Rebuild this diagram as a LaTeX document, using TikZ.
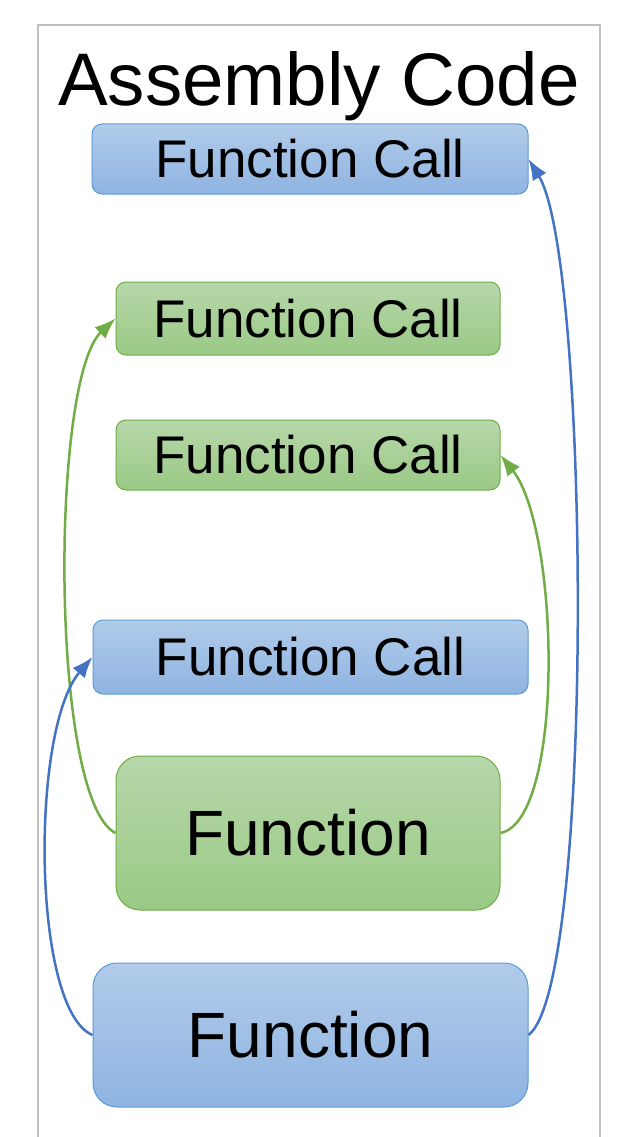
\documentclass[tikz,border=0pt]{standalone}
\usepackage{fontspec}
\setmainfont{Liberation Sans}
\usetikzlibrary{arrows.meta}

\definecolor{bluetop}{HTML}{B1CBE9}
\definecolor{bluebot}{HTML}{8FB4E2}
\definecolor{blueedge}{HTML}{5B9BD5}
\definecolor{blueline}{HTML}{4472C4}
\definecolor{greentop}{HTML}{B7D7AA}
\definecolor{greenbot}{HTML}{9AC985}
\definecolor{greenedge}{HTML}{70AD47}
\definecolor{frame}{HTML}{BFBFBF}

\tikzset{
 bluebox/.style={draw=blueedge,line width=1pt,top color=bluetop,bottom color=bluebot,rounded corners=10pt,inner sep=0pt},
 greenbox/.style={draw=greenedge,line width=1pt,top color=greentop,bottom color=greenbot,rounded corners=10pt,inner sep=0pt},
 callfont/.style={font=\fontsize{53}{62}\selectfont},
 funcfont/.style={font=\fontsize{64}{76}\selectfont},
 blueflow/.style={draw=blueline,line width=2.5pt,-{Latex[length=21pt,width=16pt]}},
 greenflow/.style={draw=greenedge,line width=2.5pt,-{Latex[length=21pt,width=16pt]}}
}

\begin{document}
\begin{tikzpicture}[x=1pt,y=-1pt]

 \useasboundingbox (0,0) rectangle (628,1137);
 \draw[frame,line width=1.5pt] (38,1137) -- (38,25) -- (600,25) -- (600,1137); % open at the bottom
 \node (title) at (319,86) {\fontsize{74.5}{88}\selectfont Assembly Code};

% Calls
 \node[bluebox,callfont,minimum width=436pt,minimum height=70pt] (callA) at (310,159) {Function Call};
 \node[greenbox,callfont,minimum width=384pt,minimum height=73pt] (callB) at (308,318.5) {Function Call};
 \node[greenbox,callfont,minimum width=384pt,minimum height=70pt] (callC) at (308,455) {Function Call};
 \node[bluebox,callfont,minimum width=435pt,minimum height=74pt] (callD) at (310.5,657) {Function Call};

% Functions
 \node[greenbox,funcfont,rounded corners=24pt,minimum width=384pt,minimum height=154pt] (funcG) at (308,833) {Function};
 \node[bluebox,funcfont,rounded corners=24pt,minimum width=435pt,minimum height=144pt] (funcB) at (310.5,1035) {Function};

% Returns to the callers
 \draw[greenflow] (funcG.west) .. controls (50,800) and (50,380) .. (callB.west);
 \draw[greenflow] (funcG.east) .. controls (565,820) and (560,530) .. (callC.east);
 \draw[blueflow] (funcB.west) .. controls (32,1010) and (30,730) .. (callD.west);
 \draw[blueflow] (funcB.east) .. controls (595,985) and (590,260) .. (callA.east);

\end{tikzpicture}
\end{document}
